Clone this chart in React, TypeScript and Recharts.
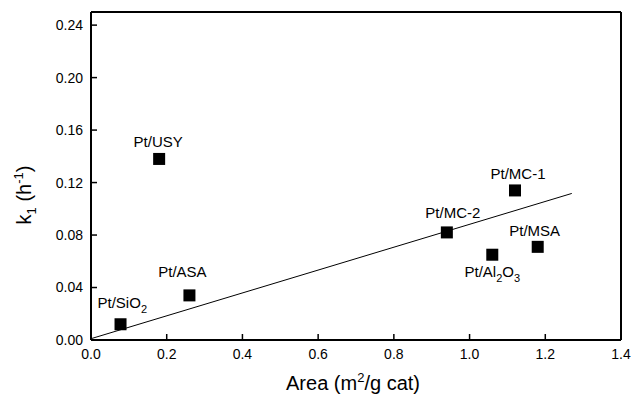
import React from 'react';
import { ScatterChart, Scatter, XAxis, YAxis, ReferenceLine } from 'recharts';

// catalysts, surface area (m2/g cat) and rate constant k1 (h-1)
const catalysts = ['Pt/SiO2', 'Pt/USY', 'Pt/ASA', 'Pt/MC-2', 'Pt/MC-1', 'Pt/Al2O3', 'Pt/MSA'];
const areas = [0.078, 0.18, 0.26, 0.94, 1.12, 1.06, 1.18];
const k1Values = [0.012, 0.138, 0.034, 0.082, 0.114, 0.065, 0.071];

// linear fit drawn across the data
const fitX = [0, 1.27];
const fitY = [0.001, 0.1117];

const xTicks = [0, 0.2, 0.4, 0.6, 0.8, 1.0, 1.2, 1.4];
const yTicks = [0, 0.04, 0.08, 0.12, 0.16, 0.2, 0.24];

const points = catalysts.map((name, i) => ({ name, area: areas[i], k1: k1Values[i] }));
const fitSegment = fitX.map((x, i) => ({ x, y: fitY[i] }));

const FONT = '"Liberation Sans", Arial, sans-serif';

// label placement relative to the marker centre
const labelPos: Record<string, { dx: number; dy: number; anchor: 'start' | 'middle' }> = {
  'Pt/SiO2': { dx: -23, dy: -16, anchor: 'start' },
  'Pt/USY': { dx: -1, dy: -12, anchor: 'middle' },
  'Pt/ASA': { dx: -7, dy: -18, anchor: 'middle' },
  'Pt/MC-2': { dx: 6, dy: -14, anchor: 'middle' },
  'Pt/MC-1': { dx: 3, dy: -11, anchor: 'middle' },
  'Pt/Al2O3': { dx: 0, dy: 22, anchor: 'middle' },
  'Pt/MSA': { dx: -3, dy: -11, anchor: 'middle' },
};

// turns digits in chemical formulas into subscripts
const formula = (name: string) => {
  const parts = name.split(/(\d)/).filter((p) => p !== '');
  let sub = false;
  return parts.map((p, i) => {
    const isDigit = /^\d$/.test(p) && !name.startsWith('Pt/MC');
    const shift = isDigit && !sub ? 5 : !isDigit && sub ? -5 : 0;
    sub = isDigit;
    return (
      <tspan key={i} dy={shift} fontSize={isDigit ? 11 : 15}>
        {p}
      </tspan>
    );
  });
};

const Marker = (props: any) => {
  const { cx, cy, payload } = props;
  const pos = labelPos[payload.name];
  return (
    <g>
      <rect x={cx - 6} y={cy - 6} width={12} height={12} fill="#000" />
      <text
        x={cx + pos.dx}
        y={cy + pos.dy}
        textAnchor={pos.anchor}
        fontFamily={FONT}
        fontSize={15}
        fill="#000"
      >
        {formula(payload.name)}
      </text>
    </g>
  );
};

const XTitle = ({ viewBox }: any) => (
  <text x={viewBox.x + 262} y={390} textAnchor="middle" fontFamily={FONT} fontSize={20} fill="#000">
    Area (m
    <tspan fontSize={13} dy={-8}>2</tspan>
    <tspan dy={8}>/g cat)</tspan>
  </text>
);

const YTitle = () => (
  <text
    x={0}
    y={0}
    transform="translate(31,195) rotate(-90)"
    textAnchor="middle"
    fontFamily={FONT}
    fontSize={20}
    fill="#000"
  >
    k
    <tspan fontSize={13} dy={5}>1</tspan>
    <tspan dy={-5}> (h</tspan>
    <tspan fontSize={13} dy={-8}>-1</tspan>
    <tspan dy={8}>)</tspan>
  </text>
);

export default function App() {
  return (
    <div style={{ position: 'absolute', left: 0, top: 0, background: '#fff' }}>
      <ScatterChart width={631} height={396} margin={{ top: 12, right: 10, left: 0, bottom: 0 }}>
        <XAxis
          type="number"
          dataKey="area"
          domain={[0, 1.4]}
          ticks={xTicks}
          tickFormatter={(v: number) => v.toFixed(1)}
          height={56}
          tickSize={-6}
          tickMargin={15}
          axisLine={{ stroke: '#000', strokeWidth: 2 }}
          tickLine={{ stroke: '#000', strokeWidth: 1.5 }}
          tick={{ fill: '#000', fontSize: 14, fontFamily: FONT }}
          label={<XTitle />}
          allowDataOverflow
        />
        <YAxis
          type="number"
          dataKey="k1"
          domain={[0, 0.25]}
          ticks={yTicks}
          tickFormatter={(v: number) => v.toFixed(2)}
          width={91}
          tickSize={-6}
          tickMargin={14}
          axisLine={{ stroke: '#000', strokeWidth: 2 }}
          tickLine={{ stroke: '#000', strokeWidth: 1.5 }}
          tick={{ fill: '#000', fontSize: 14, fontFamily: FONT }}
          label={<YTitle />}
          allowDataOverflow
        />
        <ReferenceLine y={0.25} stroke="#000" strokeWidth={2} />
        <ReferenceLine x={1.4} stroke="#000" strokeWidth={2} />
        <ReferenceLine
          segment={fitSegment}
          stroke="#000"
          strokeWidth={1}
        />
        <Scatter data={points} shape={<Marker />} isAnimationActive={false} />
      </ScatterChart>
    </div>
  );
}
